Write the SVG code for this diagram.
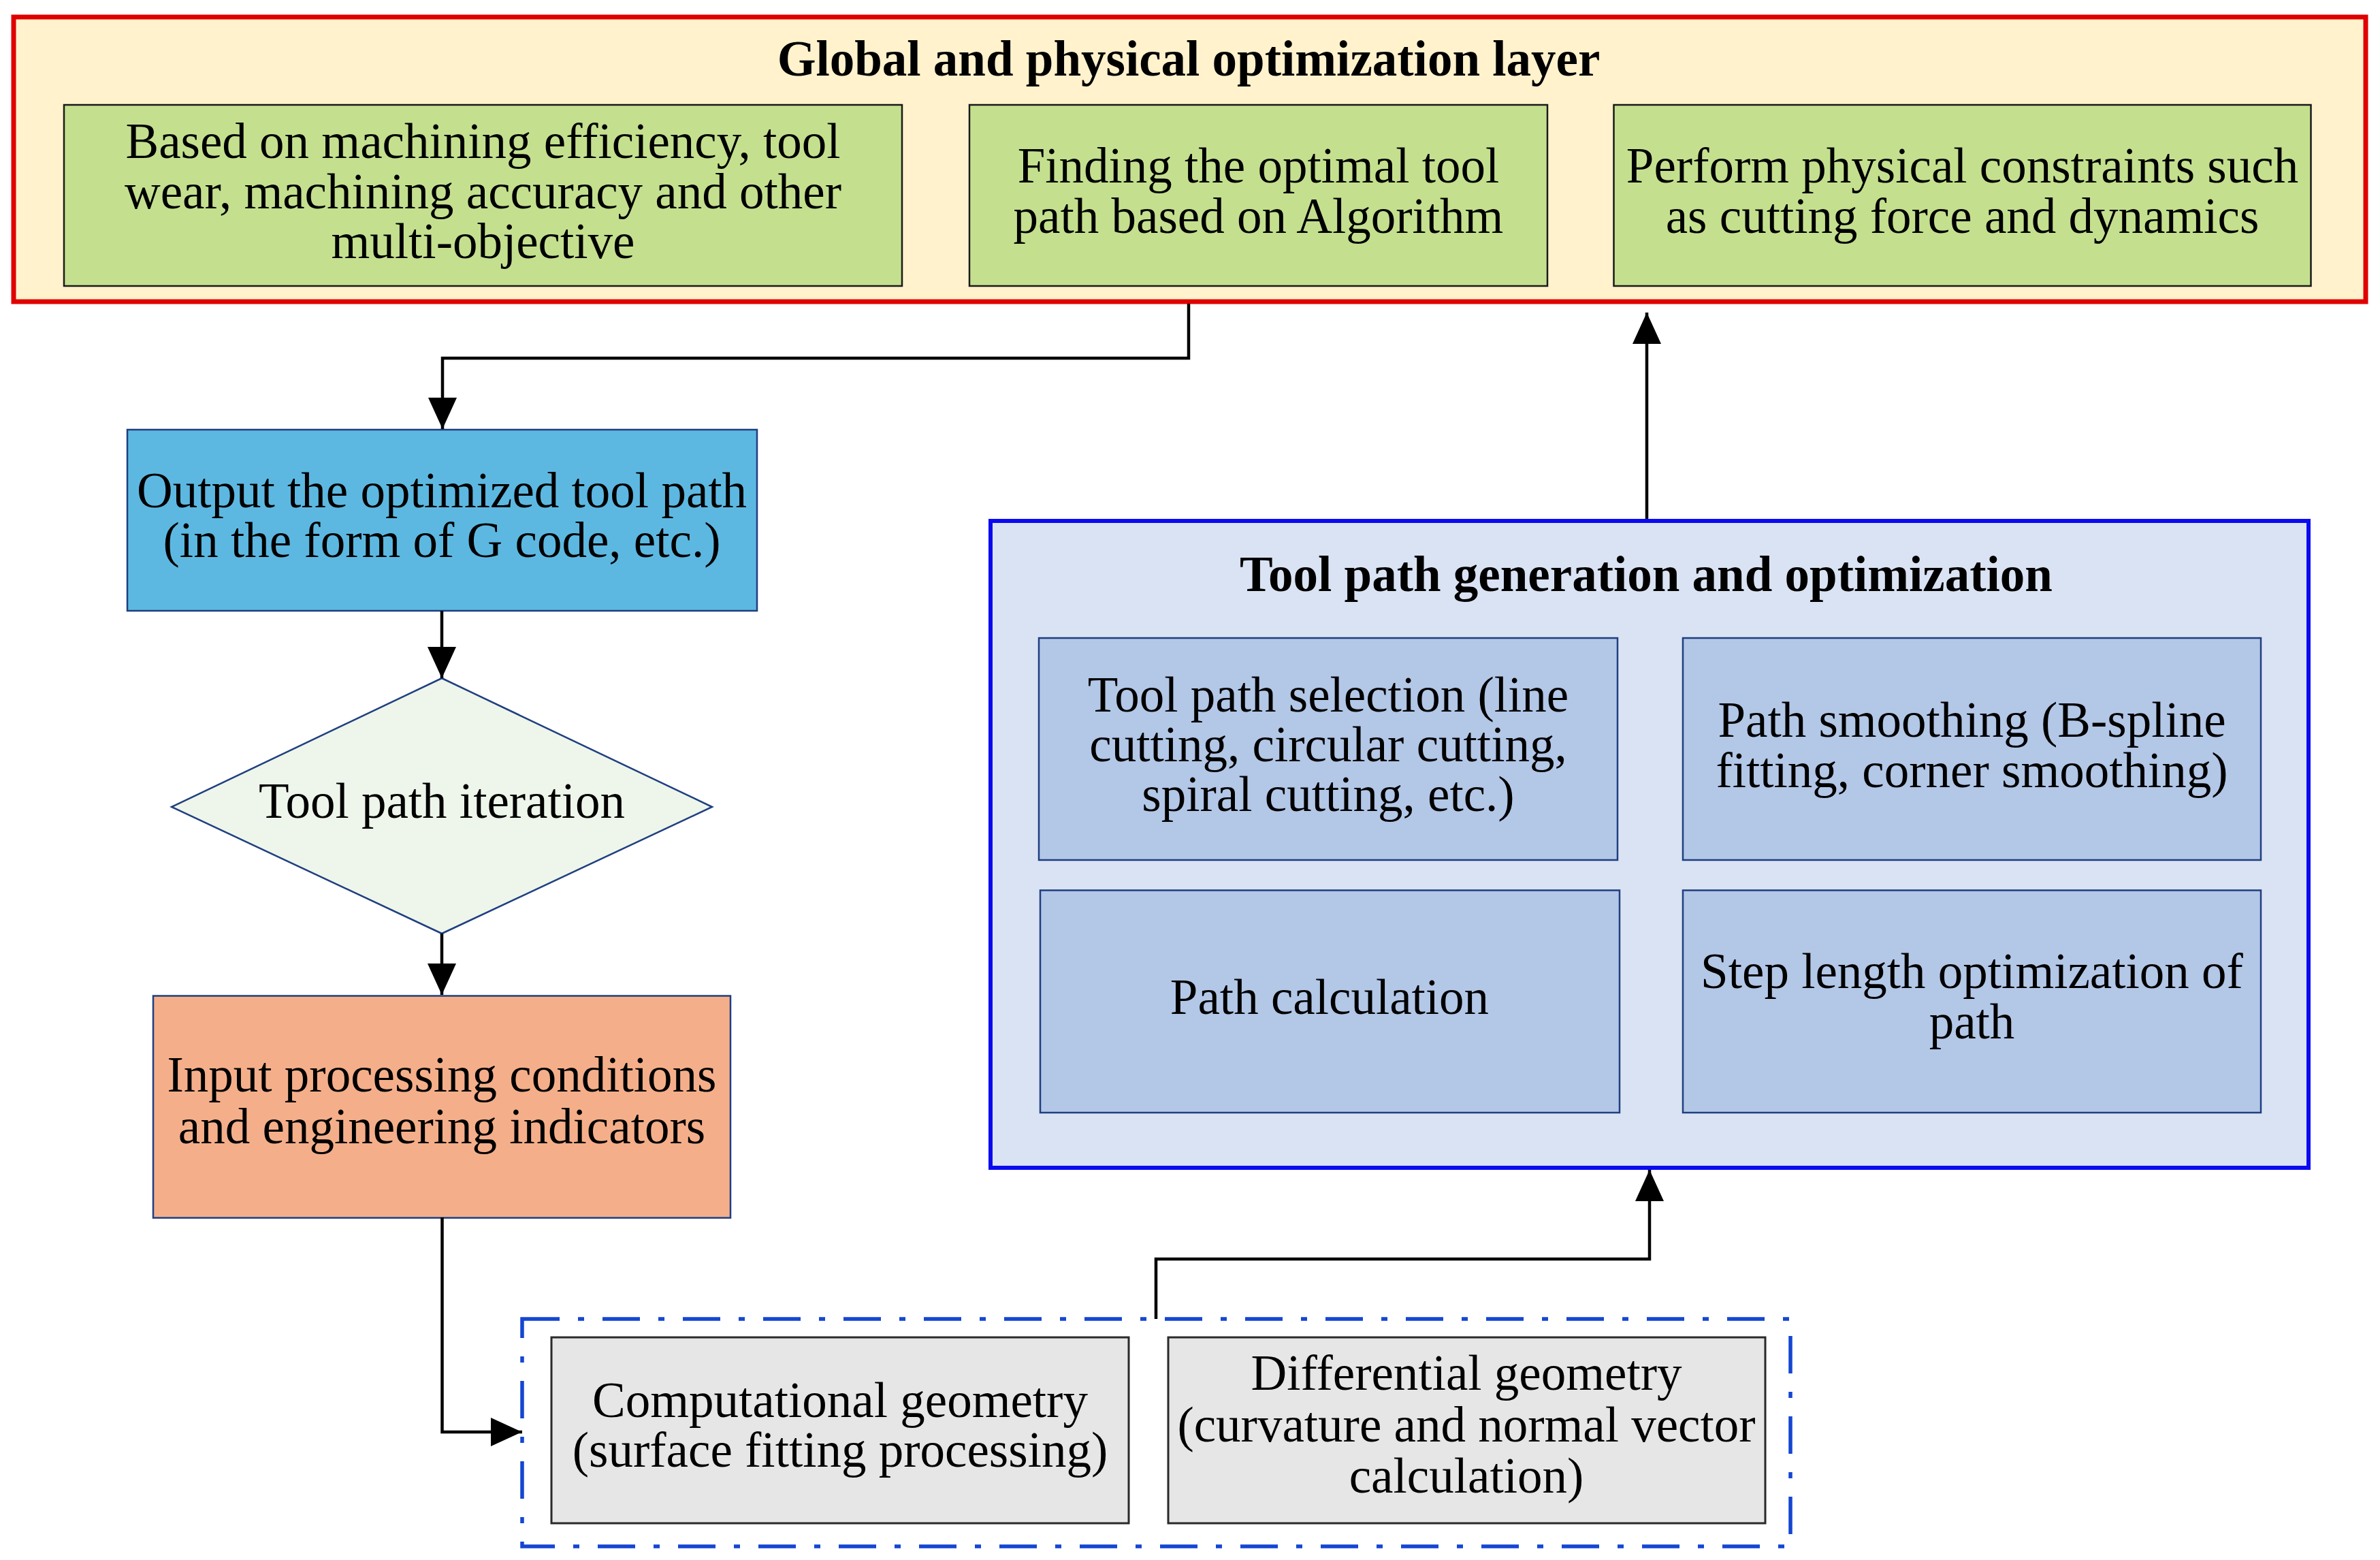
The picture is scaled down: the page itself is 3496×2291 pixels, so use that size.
<svg xmlns="http://www.w3.org/2000/svg" width="3496" height="2291" viewBox="0 0 3496 2291">
<defs>
<style>
text{font-family:"Liberation Serif","Times New Roman",serif;font-size:73px;fill:#000;text-anchor:middle}
.b{font-weight:bold}
.con{fill:none;stroke:#000;stroke-width:4.5}
.green{fill:#C4E08F;stroke:#1a1a1a;stroke-width:2.5}
.inner{fill:#B3C7E7;stroke:#1F3F80;stroke-width:2.5}
.gray{fill:#E6E6E6;stroke:#2a2a2a;stroke-width:3}
</style>
<marker id="ah" markerUnits="userSpaceOnUse" markerWidth="46" markerHeight="42" refX="46" refY="21" orient="auto">
<path d="M0,0 L46,21 L0,42 z" fill="#000"/>
</marker>
</defs>
<rect width="3496" height="2291" fill="#fff"/>

<g id="global-layer">
<rect x="20" y="25" width="3455" height="418" fill="#FFF2CC" stroke="#E00000" stroke-width="7"/>
<text class="b" x="1746" y="111">Global and physical optimization layer</text>
</g>
<g id="multi-objective">
<rect class="green" x="94" y="154" width="1231" height="266"/>
<text x="709.5" y="232">Based on machining efficiency, tool</text>
<text x="709.5" y="306">wear, machining accuracy and other</text>
<text x="709.5" y="379">multi-objective</text>
</g>
<g id="optimal-path">
<rect class="green" x="1424" y="154" width="849" height="266"/>
<text x="1848.5" y="268">Finding the optimal tool</text>
<text x="1848.5" y="341.5">path based on Algorithm</text>
</g>
<g id="physical-constraints">
<rect class="green" x="2370.5" y="154" width="1024" height="266"/>
<text x="2882.5" y="268">Perform physical constraints such</text>
<text x="2882.5" y="341.5">as cutting force and dynamics</text>
</g>

<g id="output">
<rect x="187" y="631" width="925" height="266" fill="#5DB8E1" stroke="#1F3F80" stroke-width="2.5"/>
<text x="649" y="745">Output the optimized tool path</text>
<text x="649" y="818">(in the form of G code, etc.)</text>
</g>
<g id="iteration">
<polygon points="649,996 1046,1185 649,1371 252,1185" fill="#EEF5EA" stroke="#1F3F80" stroke-width="2.5"/>
<text x="649" y="1201">Tool path iteration</text>
</g>
<g id="input">
<rect x="225" y="1462.5" width="848" height="326" fill="#F4AF8A" stroke="#1F3F80" stroke-width="2.5"/>
<text x="649" y="1602.5">Input processing conditions</text>
<text x="649" y="1679">and engineering indicators</text>
</g>

<g id="generation">
<rect x="1455" y="765" width="1936" height="950" fill="#DAE3F3" stroke="#0A0AF0" stroke-width="6"/>
<text class="b" x="2418" y="868">Tool path generation and optimization</text>
</g>
<g id="selection">
<rect class="inner" x="1526" y="937" width="850" height="326"/>
<text x="1951" y="1045">Tool path selection (line</text>
<text x="1951" y="1118">cutting, circular cutting,</text>
<text x="1951" y="1191">spiral cutting, etc.)</text>
</g>
<g id="smoothing">
<rect class="inner" x="2472" y="937" width="849" height="326"/>
<text x="2896.5" y="1082">Path smoothing (B-spline</text>
<text x="2896.5" y="1156">fitting, corner smoothing)</text>
</g>
<g id="calculation">
<rect class="inner" x="1528" y="1307.5" width="851" height="326.5"/>
<text x="1953" y="1489">Path calculation</text>
</g>
<g id="step-length">
<rect class="inner" x="2472" y="1307.5" width="849" height="326.5"/>
<text x="2896.5" y="1451">Step length optimization of</text>
<text x="2896.5" y="1525">path</text>
</g>

<g id="geometry">
<rect x="767" y="1937" width="1863" height="334" fill="none" stroke="#1446D2" stroke-width="5.5" stroke-dasharray="55 27 9 27"/>
</g>
<g id="computational">
<rect class="gray" x="810" y="1964" width="848" height="273"/>
<text x="1234" y="2081">Computational geometry</text>
<text x="1234" y="2154">(surface fitting processing)</text>
</g>
<g id="differential">
<rect class="gray" x="1716" y="1964" width="877" height="273"/>
<text x="2154" y="2041">Differential geometry</text>
<text x="2154" y="2117">(curvature and normal vector</text>
<text x="2154" y="2192">calculation)</text>
</g>

<g id="connectors">
<path class="con" d="M1746,446 V526 H650 V630" marker-end="url(#ah)"/>
<path class="con" d="M649,897 V996" marker-end="url(#ah)"/>
<path class="con" d="M649,1371 V1461" marker-end="url(#ah)"/>
<path class="con" d="M649.5,1788 V2103 H767" marker-end="url(#ah)"/>
<path class="con" d="M1698,1937 V1849 H2423 V1718" marker-end="url(#ah)"/>
<path class="con" d="M2419,762 V459" marker-end="url(#ah)"/>
</g>
</svg>
